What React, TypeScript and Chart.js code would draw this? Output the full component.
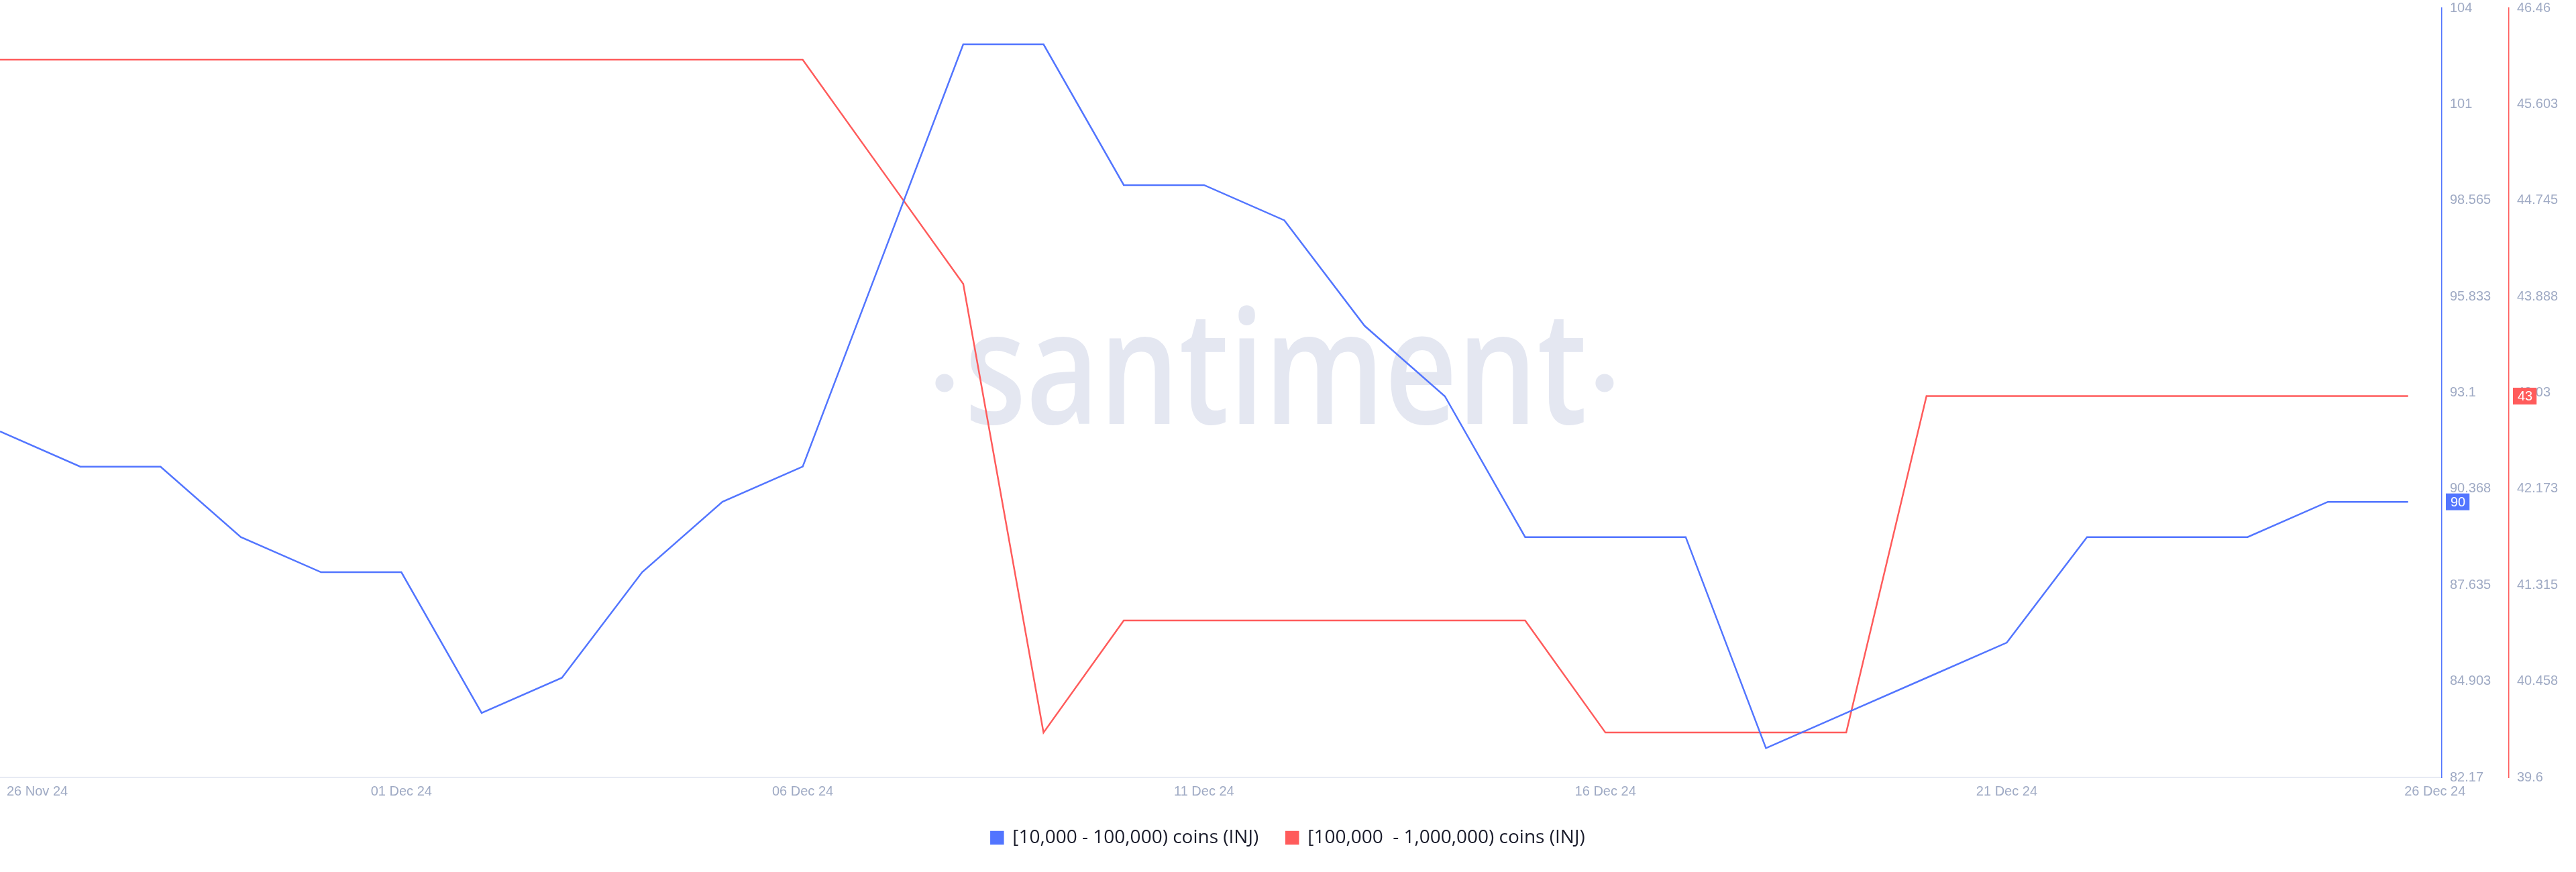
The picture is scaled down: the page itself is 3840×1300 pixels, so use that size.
import React, { useEffect, useRef } from 'react';
import { Chart, registerables } from 'chart.js';

Chart.register(...registerables);

// ---------- data ----------
const categories: string[] = [
  '26 Nov 24', '27 Nov 24', '28 Nov 24', '29 Nov 24', '30 Nov 24',
  '01 Dec 24', '02 Dec 24', '03 Dec 24', '04 Dec 24', '05 Dec 24',
  '06 Dec 24', '07 Dec 24', '08 Dec 24', '09 Dec 24', '10 Dec 24',
  '11 Dec 24', '12 Dec 24', '13 Dec 24', '14 Dec 24', '15 Dec 24',
  '16 Dec 24', '17 Dec 24', '18 Dec 24', '19 Dec 24', '20 Dec 24',
  '21 Dec 24', '22 Dec 24', '23 Dec 24', '24 Dec 24', '25 Dec 24',
  '26 Dec 24',
];

const seriesSmall: number[] = [
  92, 91, 91, 89, 88, 88, 84, 85, 88, 90,
  91, 97, 103, 103, 99, 99, 98, 95, 93, 89,
  89, 89, 83, 84, 85, 86, 89, 89, 89, 90,
  90,
];

const seriesLarge: number[] = [
  46, 46, 46, 46, 46, 46, 46, 46, 46, 46,
  46, 45, 44, 40, 41, 41, 41, 41, 41, 41,
  40, 40, 40, 40, 43, 43, 43, 43, 43, 43,
  43,
];

const seriesNames: string[] = [
  '[10,000 - 100,000) coins (INJ)',
  '[100,000  - 1,000,000) coins (INJ)',
];

const xTickIndices: number[] = [0, 5, 10, 15, 20, 25, 30];

const smallTickValues: number[] = [82.17, 84.9025, 87.635, 90.3675, 93.1, 95.8325, 98.565, 101.2975, 104.03];
const smallTickLabels: string[] = ['82.17', '84.903', '87.635', '90.368', '93.1', '95.833', '98.565', '101', '104'];

const largeTickValues: number[] = [39.6, 40.4575, 41.315, 42.1725, 43.03, 43.8875, 44.745, 45.6025, 46.46];
const largeTickLabels: string[] = ['39.6', '40.458', '41.315', '42.173', '43.03', '43.888', '44.745', '45.603', '46.46'];

// ---------- styles ----------
const BLUE = '#5275ff';
const RED = '#ff5b5b';
const TICK_COLOR = '#9faac4';
const AXIS_LINE = '#e7eaf3';
const LEGEND_TEXT = '#1a1c2b';
const WATERMARK = '#e4e7f1';
const TICK_FONT = "'Liberation Sans', Arial, sans-serif";

const watermarkPlugin = {
  id: 'santimentWatermark',
  beforeDatasetsDraw(chart: any) {
    const { ctx, chartArea } = chart;
    ctx.save();
    ctx.fillStyle = WATERMARK;
    ctx.font = "600 235px 'Open Sans', sans-serif";
    ctx.textAlign = 'center';
    ctx.textBaseline = 'alphabetic';
    const cx = chartArea.left + chartArea.width * 0.5225;
    const baseline = chartArea.top + chartArea.height * 0.5405;
    const w = 928;
    ctx.fillText('santiment', cx, baseline, w);
    const dotY = baseline - 61;
    ctx.beginPath();
    ctx.arc(cx - w / 2 - 30, dotY, 13.5, 0, Math.PI * 2);
    ctx.fill();
    ctx.beginPath();
    ctx.arc(cx + w / 2 + 26, dotY, 13.5, 0, Math.PI * 2);
    ctx.fill();
    ctx.restore();
  },
};

const xLabelPlugin = {
  id: 'xEdgeLabels',
  afterDraw(chart: any) {
    const { ctx, chartArea } = chart;
    const scale = chart.scales.x;
    ctx.save();
    ctx.font = `20px ${TICK_FONT}`;
    ctx.fillStyle = TICK_COLOR;
    ctx.textBaseline = 'middle';
    ctx.textAlign = 'left';
    const y = chartArea.bottom + 21;
    scale.ticks.forEach((t: any, i: number) => {
      const text = categories[t.value];
      const w = ctx.measureText(text).width;
      const px = scale.getPixelForValue(t.value);
      let left = px - w / 2;
      if (i === 0) left = Math.max(left, chartArea.left + 10);
      if (i === scale.ticks.length - 1) left = px - w / 2 + 40;
      ctx.fillText(text, left, y);
    });
    ctx.restore();
  },
};

const badgePlugin = {
  id: 'lastValueBadges',
  afterDraw(chart: any) {
    const { ctx } = chart;
    ctx.save();
    ctx.font = `20px ${TICK_FONT}`;
    ctx.textBaseline = 'middle';
    ctx.textAlign = 'left';
    chart.data.datasets.forEach((ds: any) => {
      const scale = chart.scales[ds.yAxisID];
      const last = ds.data[ds.data.length - 1];
      const v = last.y;
      const y = scale.getPixelForValue(v);
      const text = String(v);
      const w = ctx.measureText(text).width + 13;
      ctx.fillStyle = ds.borderColor;
      ctx.fillRect(scale.left + 6, y - 12.5, w, 25);
      ctx.fillStyle = '#ffffff';
      ctx.fillText(text, scale.left + 13, y + 1);
    });
    ctx.restore();
  },
};

export default function App() {
  const canvasRef = useRef<HTMLCanvasElement | null>(null);

  useEffect(() => {
    document.body.style.margin = '0';
    const canvas = canvasRef.current;
    if (!canvas) return;

    const chart = new Chart(canvas, {
      type: 'line',
      data: {
        datasets: [
          {
            label: seriesNames[0],
            data: seriesSmall.map((v, i) => ({ x: i, y: v })),
            borderColor: BLUE,
            backgroundColor: BLUE,
            borderWidth: 2.5,
            pointRadius: 0,
            tension: 0,
            yAxisID: 'y',
          },
          {
            label: seriesNames[1],
            data: seriesLarge.map((v, i) => ({ x: i, y: v })),
            borderColor: RED,
            backgroundColor: RED,
            borderWidth: 2.5,
            pointRadius: 0,
            tension: 0,
            yAxisID: 'y1',
          },
        ],
      },
      options: {
        responsive: false,
        animation: false,
        devicePixelRatio: 1,
        layout: { padding: { left: 0, right: 0, top: 0, bottom: 27 } },
        scales: {
          x: {
            type: 'linear',
            min: 0,
            max: 30.42,
            afterBuildTicks: (s: any) => {
              s.ticks = xTickIndices.map((value) => ({ value }));
            },
            afterFit: (s: any) => {
              s.height = 35;
            },
            ticks: { display: false },
            grid: { display: false, drawTicks: false },
            border: { display: true, color: AXIS_LINE, width: 2 },
          },
          y: {
            type: 'linear',
            position: 'right',
            weight: 0,
            min: 82.17,
            max: 104.03,
            afterBuildTicks: (s: any) => {
              s.ticks = smallTickValues.map((value) => ({ value }));
            },
            afterFit: (s: any) => {
              s.width = 100;
            },
            ticks: {
              autoSkip: false,
              padding: 0,
              color: TICK_COLOR,
              font: { family: TICK_FONT, size: 20 },
              callback: (_v: any, i: number) => smallTickLabels[i],
            },
            grid: { display: false, drawTicks: true, tickLength: 12 },
            border: { display: true, color: BLUE, width: 1.5 },
          },
          y1: {
            type: 'linear',
            position: 'right',
            weight: 1,
            min: 39.6,
            max: 46.46,
            afterBuildTicks: (s: any) => {
              s.ticks = largeTickValues.map((value) => ({ value }));
            },
            afterFit: (s: any) => {
              s.width = 100;
            },
            ticks: {
              autoSkip: false,
              padding: 0,
              color: TICK_COLOR,
              font: { family: TICK_FONT, size: 20 },
              callback: (_v: any, i: number) => largeTickLabels[i],
            },
            grid: { display: false, drawTicks: true, tickLength: 12 },
            border: { display: true, color: RED, width: 1.5 },
          },
        },
        plugins: {
          legend: {
            display: true,
            position: 'bottom',
            labels: {
              boxWidth: 18,
              boxHeight: 18,
              padding: 41,
              color: LEGEND_TEXT,
              font: { family: "'Open Sans', sans-serif", size: 28 },
            },
          },
          tooltip: { enabled: false },
        },
      },
      plugins: [watermarkPlugin, xLabelPlugin, badgePlugin],
    } as any);

    return () => {
      chart.destroy();
    };
  }, []);

  return (
    <div style={{ width: 3840, height: 1300 }}>
      <canvas ref={canvasRef} width={3840} height={1300} style={{ display: 'block' }} />
    </div>
  );
}
